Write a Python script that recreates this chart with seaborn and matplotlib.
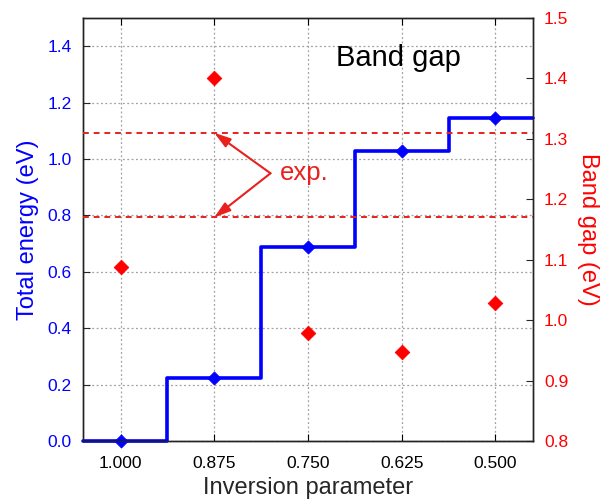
import numpy as np
import pandas as pd
import matplotlib
matplotlib.use("Agg")
import matplotlib.pyplot as plt
import seaborn as sns

# values
inversion = [1.000, 0.875, 0.750, 0.625, 0.500]
total_energy = [0.0, 0.222, 0.687, 1.028, 1.145]
band_gap = [1.088, 1.40, 0.978, 0.948, 1.028]
exp_gap = [1.31, 1.17]
x_ticks = [1.000, 0.875, 0.750, 0.625, 0.500]
x_labels = ["1.000", "0.875", "0.750", "0.625", "0.500"]

sns.set_style("ticks")
plt.rcParams["font.family"] = ["Liberation Sans", "DejaVu Sans"]

xlim = (1.05, 0.45)

fig = plt.figure(figsize=(6.06, 5.0), dpi=100)
ax = fig.add_axes([0.137, 0.118, 0.7425, 0.846])
ax2 = ax.twinx()

# step line for total energy, padded to the axis edges
step_df = pd.DataFrame({
    "x": [xlim[0]] + inversion + [xlim[1]],
    "y": [total_energy[0]] + total_energy + [total_energy[-1]],
})
sns.lineplot(data=step_df, x="x", y="y", ax=ax, color="blue", lw=2.6,
             drawstyle="steps-mid", sort=False, clip_on=False, zorder=5)
sns.scatterplot(x=inversion, y=total_energy, ax=ax, color="blue", marker="D",
                s=45, edgecolor="blue", clip_on=False, zorder=6)

# band gap points and experimental lines
sns.scatterplot(x=inversion, y=band_gap, ax=ax2, color="red", marker="D",
                s=55, edgecolor="red", zorder=6)
for g in exp_gap:
    ax2.axhline(g, color="#e8201e", ls=(0, (3, 2.5)), lw=1.4, zorder=4)

ax2.text(0.788, 1.243, "exp.", color="#e8201e", fontsize=18.5, va="center", ha="left")
for g in exp_gap:
    ax2.annotate("", xy=(x_ticks[1], g), xytext=(0.8, 1.243),
                 arrowprops=dict(arrowstyle="-|>,head_length=0.7,head_width=0.22",
                                 color="#e8201e", lw=1.5,
                                 mutation_scale=14, shrinkA=0, shrinkB=0))

ax.text(0.562, 0.905, "Band gap", transform=ax.transAxes, fontsize=21,
        va="center", ha="left", color="black")

ax.set_xlim(*xlim)
ax.set_ylim(0, 1.5)
ax2.set_ylim(0.8, 1.5)
ax.set_xticks(x_ticks)
ax.set_xticklabels(x_labels)
ax.set_yticks(np.arange(0, 1.41, 0.2))
ax.set_yticklabels([f"{v:.1f}" for v in np.arange(0, 1.41, 0.2)])
ax2.set_yticks(np.arange(0.8, 1.51, 0.1))
ax2.set_yticklabels([f"{v:.1f}" for v in np.arange(0.8, 1.51, 0.1)])

ax.grid(True, color="#a0a0a0", ls=(0, (1.5, 2)), lw=0.9)
ax2.grid(False)

ax.tick_params(axis="x", direction="in", top=True, length=5, labelsize=12.5,
               colors="black", pad=11)
ax.tick_params(axis="y", direction="in", length=5, labelsize=12.5,
               labelcolor="blue", pad=8)
ax2.tick_params(axis="y", direction="in", length=5, labelsize=12.5,
                labelcolor="red", pad=8)

ax.set_xlabel("Inversion parameter", fontsize=17, labelpad=4)
ax.set_ylabel("Total energy (eV)", fontsize=17, color="blue", labelpad=6)
ax2.set_ylabel("Band gap (eV)", fontsize=17, color="red", rotation=270,
               labelpad=22)

for a in (ax, ax2):
    for s in a.spines.values():
        s.set_color("#222222")
        s.set_linewidth(1.0)

fig.savefig("out.png", dpi=100)
